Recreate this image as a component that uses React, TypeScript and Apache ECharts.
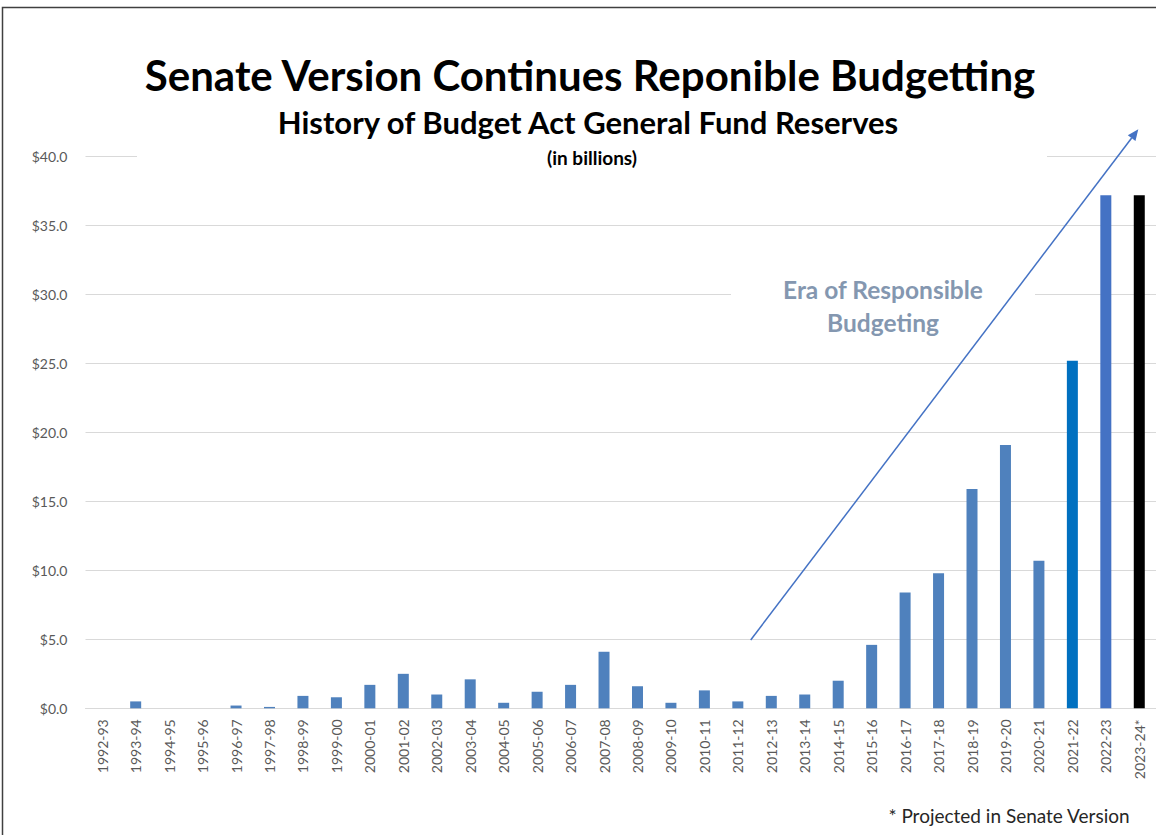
import React, { useEffect, useRef } from "react";
import * as echarts from "echarts";

const categories = [
  "1992-93", "1993-94", "1994-95", "1995-96", "1996-97", "1997-98", "1998-99", "1999-00",
  "2000-01", "2001-02", "2002-03", "2003-04", "2004-05", "2005-06", "2006-07", "2007-08",
  "2008-09", "2009-10", "2010-11", "2011-12", "2012-13", "2013-14", "2014-15", "2015-16",
  "2016-17", "2017-18", "2018-19", "2019-20", "2020-21", "2021-22", "2022-23", "2023-24*",
];

const reserves = [
  0, 0.5, 0, 0, 0.2, 0.1, 0.9, 0.8,
  1.7, 2.5, 1.0, 2.1, 0.4, 1.2, 1.7, 4.1,
  1.6, 0.4, 1.3, 0.5, 0.9, 1.0, 2.0, 4.6,
  8.4, 9.8, 15.9, 19.1, 10.7, 25.2, 37.2, 37.2,
];

const yTicks = [0, 5, 10, 15, 20, 25, 30, 35, 40];

const titleText = "Senate Version Continues Reponible Budgetting";
const subtitleText = "History of Budget Act General Fund Reserves";
const unitText = "(in billions)";
const annotationText = "Era of Responsible\nBudgeting";
const footnoteText = "* Projected in Senate Version";

const baseColor = "#4F81BD";
const specialColors: Record<string, string> = {
  "2021-22": "#0070C0",
  "2022-23": "#4472C4",
  "2023-24*": "#000000",
};

export default function App() {
  const ref = useRef<HTMLDivElement>(null);

  useEffect(() => {
    document.body.style.margin = "0";
    if (!ref.current) return;
    const chart = echarts.init(ref.current, null, { renderer: "svg" });

    const tip = [1138.3, 129.3];
    const start = [750.7, 640];
    const dx = tip[0] - start[0];
    const dy = tip[1] - start[1];
    const len = Math.sqrt(dx * dx + dy * dy);
    const ux = dx / len;
    const uy = dy / len;
    const headLen = 11;
    const headHalf = 4.8;
    const bx = tip[0] - ux * headLen;
    const by = tip[1] - uy * headLen;
    const px = -uy;
    const py = ux;

    chart.setOption({
      animation: false,
      backgroundColor: "#ffffff",
      grid: { left: 85.5, top: 156.7, width: 1072, height: 551.6, containLabel: false },
      xAxis: {
        type: "category",
        data: categories,
        axisLine: { show: true, lineStyle: { color: "#D9D9D9", width: 1 } },
        axisTick: { show: false },
        axisLabel: {
          rotate: 90,
          interval: 0,
          margin: 11,
          color: "#595959",
          fontFamily: "Lato",
          fontSize: 14,
        },
      },
      yAxis: {
        type: "value",
        min: yTicks[0],
        max: yTicks[yTicks.length - 1],
        interval: 5,
        axisLine: { show: false },
        axisTick: { show: false },
        splitLine: { lineStyle: { color: "#D9D9D9", width: 1 } },
        axisLabel: {
          margin: 18,
          color: "#595959",
          fontFamily: "Lato",
          fontSize: 14,
          formatter: (v: number) => "$" + v.toFixed(1),
        },
      },
      series: [
        {
          type: "bar",
          barWidth: 11,
          data: reserves.map((v, i) => ({
            value: v,
            itemStyle: { color: specialColors[categories[i]] || baseColor },
          })),
        },
      ],
      graphic: [
        {
          type: "rect",
          z: 100,
          shape: { x: 2.5, y: 7.5, width: 1180, height: 900 },
          style: { fill: "none", stroke: "#404040", lineWidth: 1.5 },
        },
        {
          type: "rect",
          z: 100,
          shape: { x: 137, y: 40, width: 910, height: 135 },
          style: { fill: "#ffffff" },
        },
        {
          type: "rect",
          z: 100,
          shape: { x: 731, y: 268, width: 304, height: 74 },
          style: { fill: "#ffffff" },
        },
        {
          type: "text",
          z: 101,
          x: 590,
          y: 75,
          style: {
            text: titleText,
            fill: "#000000",
            font: "bold 42px Lato",
            align: "center",
            verticalAlign: "middle",
          },
        },
        {
          type: "text",
          z: 101,
          x: 588,
          y: 122,
          style: {
            text: subtitleText,
            fill: "#000000",
            font: "bold 31px Lato",
            align: "center",
            verticalAlign: "middle",
          },
        },
        {
          type: "text",
          z: 101,
          x: 592,
          y: 157,
          style: {
            text: unitText,
            fill: "#000000",
            font: "bold 19px Lato",
            align: "center",
            verticalAlign: "middle",
          },
        },
        {
          type: "text",
          z: 101,
          x: 883,
          y: 305.5,
          style: {
            text: annotationText,
            fill: "#8497B0",
            font: "bold 24.5px Lato",
            lineHeight: 33,
            align: "center",
            verticalAlign: "middle",
          },
        },
        {
          type: "text",
          z: 101,
          x: 1009,
          y: 815,
          style: {
            text: footnoteText,
            fill: "#262626",
            font: "19px Lato",
            align: "center",
            verticalAlign: "middle",
          },
        },
        {
          type: "line",
          z: 102,
          shape: { x1: start[0], y1: start[1], x2: bx, y2: by },
          style: { stroke: "#4472C4", lineWidth: 1.5 },
        },
        {
          type: "polygon",
          z: 102,
          shape: {
            points: [
              [tip[0], tip[1]],
              [bx + px * headHalf, by + py * headHalf],
              [bx - px * headHalf, by - py * headHalf],
            ],
          },
          style: { fill: "#4472C4" },
        },
      ],
    });

    return () => chart.dispose();
  }, []);

  return <div ref={ref} style={{ width: 1156, height: 835 }} />;
}
